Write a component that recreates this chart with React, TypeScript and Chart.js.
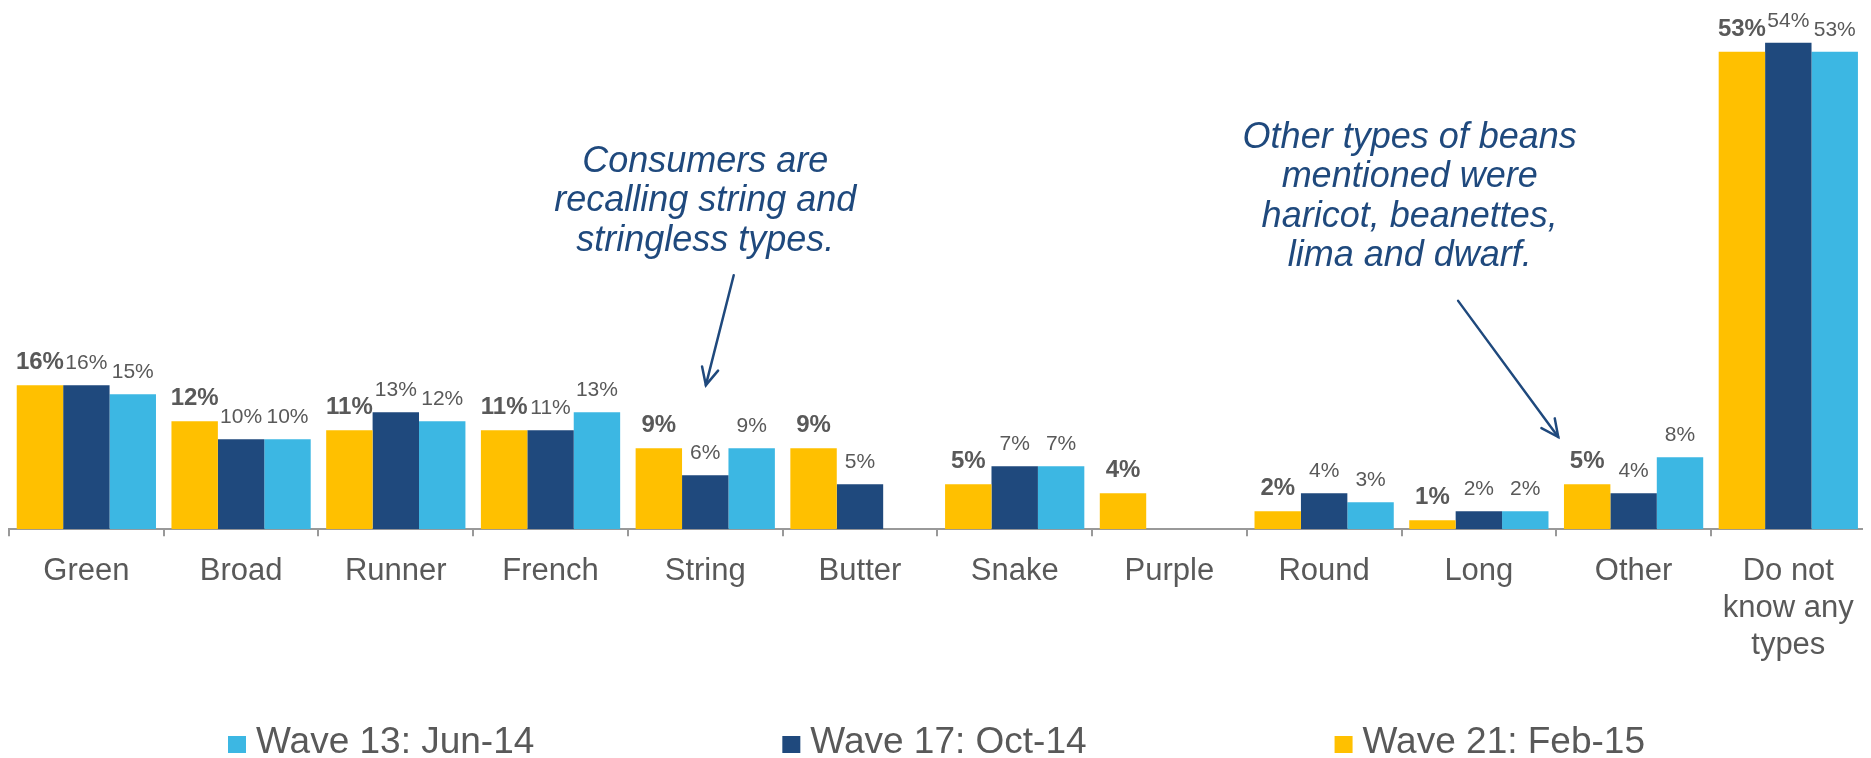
import React, { useEffect, useRef } from "react";
import { Chart, registerables } from "chart.js";

Chart.register(...registerables);

// ---------- data ----------
const categories: (string | string[])[] = [
  "Green",
  "Broad",
  "Runner",
  "French",
  "String",
  "Butter",
  "Snake",
  "Purple",
  "Round",
  "Long",
  "Other",
  ["Do not", "know any", "types"],
];
const wave21: (number | null)[] = [16, 12, 11, 11, 9, 9, 5, 4, 2, 1, 5, 53];
const wave17: (number | null)[] = [16, 10, 13, 11, 6, 5, 7, null, 4, 2, 4, 54];
const wave13: (number | null)[] = [15, 10, 12, 13, 9, null, 7, null, 3, 2, 8, 53];
const seriesLabels = ["Wave 21: Feb-15", "Wave 17: Oct-14", "Wave 13: Jun-14"];
const legendOrder = [2, 1, 0];
const note1Lines = ["Consumers are", "recalling string and", "stringless types."];
const note2Lines = ["Other types of beans", "mentioned were", "haricot, beanettes,", "lima and dwarf."];

// ---------- styles ----------
const COLORS = ["#FFC000", "#1F497D", "#3CB7E3"];
const FONT = '"Liberation Sans", Arial, sans-serif';
const TEXT_GRAY = "#595959";
const NOTE_COLOR = "#1F497D";

// annotation anchors in (fractional category index, value) units
const notes = [
  { lines: note1Lines, u: 4.0, v: 39.7, from: [4.184, 28.2], to: [4.004, 16.0] },
  { lines: note2Lines, u: 8.553, v: 42.35, from: [8.866, 25.35], to: [9.513, 10.24] },
];

const valueLabelsPlugin = {
  id: "valueLabels",
  afterDatasetsDraw(chart: any) {
    const ctx = chart.ctx;
    chart.data.datasets.forEach((ds: any, di: number) => {
      const meta = chart.getDatasetMeta(di);
      meta.data.forEach((bar: any, i: number) => {
        const v = ds.data[i];
        if (v === null || v === undefined) return;
        ctx.save();
        ctx.font = di === 0 ? `bold 24px ${FONT}` : `21px ${FONT}`;
        ctx.fillStyle = TEXT_GRAY;
        ctx.textAlign = "center";
        ctx.textBaseline = "alphabetic";
        ctx.fillText(`${v}%`, bar.x, bar.y - 16);
        ctx.restore();
      });
    });
  },
};

const notesPlugin = {
  id: "notes",
  afterDraw(chart: any) {
    const ctx = chart.ctx;
    const ys = chart.scales.y;
    const area = chart.chartArea;
    const cw = (area.right - area.left) / categories.length;
    const px = (u: number) => area.left + (u + 0.5) * cw;
    const py = (v: number) => ys.getPixelForValue(v);
    notes.forEach((n) => {
      ctx.save();
      ctx.font = `italic 36px ${FONT}`;
      ctx.fillStyle = NOTE_COLOR;
      ctx.textAlign = "center";
      ctx.textBaseline = "alphabetic";
      n.lines.forEach((line, k) => {
        ctx.fillText(line, px(n.u), py(n.v) + k * 39.5);
      });
      // arrow
      const x1 = px(n.from[0]);
      const y1 = py(n.from[1]);
      const x2 = px(n.to[0]);
      const y2 = py(n.to[1]);
      ctx.strokeStyle = NOTE_COLOR;
      ctx.lineWidth = 2.5;
      ctx.lineCap = "round";
      ctx.beginPath();
      ctx.moveTo(x1, y1);
      ctx.lineTo(x2, y2);
      ctx.stroke();
      const ang = Math.atan2(y2 - y1, x2 - x1);
      const hl = 19;
      const spread = 0.45;
      ctx.beginPath();
      ctx.moveTo(x2 - hl * Math.cos(ang - spread), y2 - hl * Math.sin(ang - spread));
      ctx.lineTo(x2, y2);
      ctx.lineTo(x2 - hl * Math.cos(ang + spread), y2 - hl * Math.sin(ang + spread));
      ctx.stroke();
      ctx.restore();
    });
  },
};

const legendPlugin = {
  id: "customLegend",
  afterDraw(chart: any) {
    const ctx = chart.ctx;
    ctx.save();
    ctx.font = `37px ${FONT}`;
    const boxW = 18;
    const boxH = 17;
    const gapBT = 10;
    const gapItems = 248;
    const items = legendOrder.map((i) => ({ text: seriesLabels[i], color: COLORS[i] }));
    const widths = items.map((it) => boxW + gapBT + ctx.measureText(it.text).width);
    const total = widths.reduce((a, b) => a + b, 0) + gapItems * (items.length - 1);
    let x = chart.width / 2 - total / 2 - 3;
    const baseline = chart.height - 5;
    items.forEach((it, k) => {
      ctx.fillStyle = it.color;
      ctx.fillRect(x, baseline - boxH, boxW, boxH);
      ctx.fillStyle = TEXT_GRAY;
      ctx.textAlign = "left";
      ctx.textBaseline = "alphabetic";
      ctx.fillText(it.text, x + boxW + gapBT, baseline);
      x += widths[k] + gapItems;
    });
    ctx.restore();
  },
};

export default function App() {
  const ref = useRef<HTMLCanvasElement | null>(null);

  useEffect(() => {
    if (!ref.current) return;
    const chart = new Chart(ref.current, {
      type: "bar",
      data: {
        labels: categories as any,
        datasets: [
          { label: seriesLabels[0], data: wave21 as any, backgroundColor: COLORS[0] },
          { label: seriesLabels[1], data: wave17 as any, backgroundColor: COLORS[1] },
          { label: seriesLabels[2], data: wave13 as any, backgroundColor: COLORS[2] },
        ],
      },
      options: {
        responsive: false,
        animation: false,
        layout: { padding: { left: 1, right: 5, top: 0, bottom: 77 } },
        datasets: {
          bar: { categoryPercentage: 0.9, barPercentage: 1.0, borderWidth: 0 },
        },
        plugins: {
          legend: { display: false },
          tooltip: { enabled: false },
          title: { display: false },
        },
        scales: {
          x: {
            offset: true,
            grid: {
              display: true,
              offset: true,
              drawOnChartArea: false,
              drawTicks: true,
              tickLength: 7,
              color: "#999999",
              lineWidth: 2,
            },
            border: { display: true, color: "#999999", width: 2 },
            ticks: {
              color: TEXT_GRAY,
              font: { family: FONT, size: 31, lineHeight: 1.19 },
              padding: 17,
              maxRotation: 0,
              minRotation: 0,
              autoSkip: false,
            },
          },
          y: {
            display: false,
            min: 0,
            max: 57.85,
          },
        },
      },
      plugins: [valueLabelsPlugin, notesPlugin, legendPlugin],
    });
    return () => chart.destroy();
  }, []);

  return (
    <div style={{ width: 1863, height: 750 }}>
      <canvas ref={ref} width={1863} height={750} style={{ display: "block", width: 1863, height: 750 }} />
    </div>
  );
}
